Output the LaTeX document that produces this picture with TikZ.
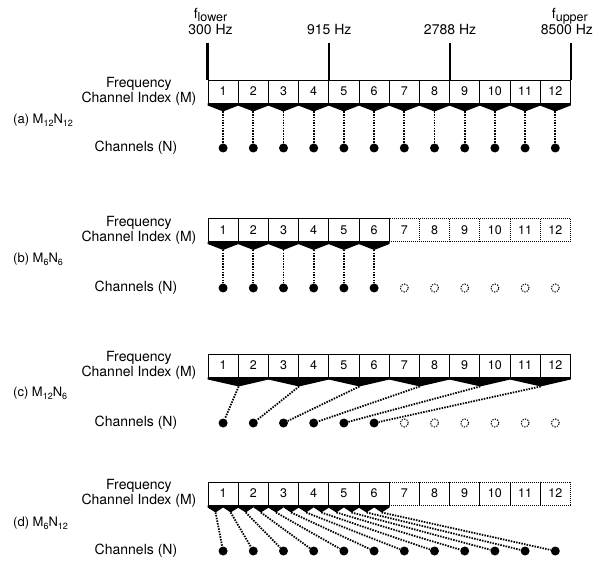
\documentclass[tikz,border=0pt]{standalone}
\usepackage{fontspec}
\setmainfont{TeX Gyre Heros}
\newcommand\subtext[2][9]{\raisebox{-0.22em}{\fontsize{#1}{#1}\selectfont #2}}
\newcommand\wedgeat[3]{\fill (#1) -- (#2) -- ([yshift=-2pt]#2) -- (#3) -- ([yshift=-2pt]#1) -- cycle;}
\tikzset{
  cell/.style={draw,line width=0.9pt,minimum width=30.2pt,minimum height=23pt,inner sep=0pt,font=\fontsize{12.5}{13}\selectfont},
  idle/.style={cell,dash pattern=on 1pt off 1pt},
  chan/.style={circle,fill,inner sep=0pt,minimum size=9pt},
  chanoff/.style={circle,draw,line width=1pt,dash pattern=on 1.3pt off 1.2pt,inner sep=0pt,minimum size=8pt},
  link/.style={line width=1.8pt,dash pattern=on 1.5pt off 1.2pt},
  tick/.style={line width=2.4pt},
  hz/.style={anchor=south,inner sep=0pt,yshift=8pt},
  rowlabel/.style={align=center,anchor=east,inner sep=0pt},
  chanlabel/.style={anchor=east,inner sep=0pt},
  panel/.style={anchor=west,inner sep=0pt,font=\fontsize{13}{15}\selectfont}
}
\begin{document}
\begin{tikzpicture}[x=1pt,y=-1pt,every node/.style={font=\fontsize{14}{15}\selectfont}]
\useasboundingbox (0,0) rectangle (600,564);

% (a)
\foreach \i in {1,...,12}{
  \node[cell] (a\i) at (192.9+30.2*\i,91.5) {\i};
  \node[chan] (na\i) at (192.9+30.2*\i,148) {};
  \coordinate (pa\i) at ([yshift=-8pt]a\i.south);
  \wedgeat{a\i.south west}{a\i.south east}{pa\i}
  \draw[link] (pa\i) -- (na\i);
}
\coordinate (t1) at ([yshift=37pt]a1.north west);
\coordinate (t2) at ([yshift=37pt]a4.north east);
\coordinate (t3) at ([yshift=37pt]a8.north east);
\coordinate (t4) at ([yshift=37pt]a12.north east);
\draw[tick] (a1.north west) -- (t1);
\draw[tick] (a4.north east) -- (t2);
\draw[tick] (a8.north east) -- (t3);
\draw[tick] (a12.north east) -- (t4);
\node[hz,xshift=3pt] (hz1) at (t1) {300 Hz};
\node[hz] (hz2) at (t2) {915 Hz};
\node[hz] (hz3) at (t3) {2788 Hz};
\node[hz,xshift=-4pt] (hz4) at (t4) {8500 Hz};
\node[anchor=base,inner sep=0pt] (flow) at ([yshift=5.5pt]hz1.north) {f\subtext[12.5]{lower}};
\node[anchor=base,inner sep=0pt] (fup) at ([yshift=5.5pt,xshift=3pt]hz4.north) {f\subtext[12.5]{upper}};
\node[rowlabel] (fa) at ([xshift=-11pt]a1.west) {Frequency\\Channel Index (M)};
\node[chanlabel] (ca) at ([xshift=-41pt]na1.west) {Channels (N)};
\node[panel] (la) at (13,120) {(a) M\subtext[9]{12}N\subtext[9]{12}};

% (b)
\foreach \i in {1,...,6}{
  \node[cell] (b\i) at (192.9+30.2*\i,230) {\i};
  \node[chan] (nb\i) at (192.9+30.2*\i,288) {};
  \coordinate (pb\i) at ([yshift=-8pt]b\i.south);
  \wedgeat{b\i.south west}{b\i.south east}{pb\i}
  \draw[link] (pb\i) -- (nb\i);
}
\foreach \i in {7,...,12}{
  \node[idle] (b\i) at (192.9+30.2*\i,230) {\i};
  \node[chanoff] (nb\i) at (192.9+30.2*\i,288) {};
}
\node[rowlabel] (fb) at ([xshift=-11pt]b1.west) {Frequency\\Channel Index (M)};
\node[chanlabel] (cb) at ([xshift=-41pt]nb1.west) {Channels (N)};
\node[panel] (lb) at (13,259) {(b) M\subtext[9]{6}N\subtext[9]{6}};

% (c)
\foreach \i in {1,...,12}{
  \node[cell] (c\i) at (192.9+30.2*\i,365.5) {\i};
}
\foreach \i in {1,...,6}{
  \node[chan] (nc\i) at (192.9+30.2*\i,423) {};
}
\foreach \i in {7,...,12}{
  \node[chanoff] (nc\i) at (192.9+30.2*\i,423) {};
}
\foreach \k [evaluate=\k as \l using int(2*\k-1), evaluate=\k as \r using int(2*\k)] in {1,...,6}{
  \coordinate (pc\k) at ([yshift=-9pt]c\l.south east);
  \wedgeat{c\l.south west}{c\r.south east}{pc\k}
  \draw[link] (pc\k) -- (nc\k);
}
\node[rowlabel] (fc) at ([xshift=-11pt]c1.west) {Frequency\\Channel Index (M)};
\node[chanlabel] (cc) at ([xshift=-41pt]nc1.west) {Channels (N)};
\node[panel] (lc) at (13,393) {(c) M\subtext[9]{12}N\subtext[9]{6}};

% (d)
\foreach \i in {1,...,6}{
  \node[cell] (d\i) at (192.9+30.2*\i,493.5) {\i};
}
\foreach \i in {7,...,12}{
  \node[idle] (d\i) at (192.9+30.2*\i,493.5) {\i};
}
\foreach \i in {1,...,12}{
  \node[chan] (nd\i) at (192.9+30.2*\i,551) {};
}
\foreach \i [evaluate=\i as \l using int(2*\i-1), evaluate=\i as \r using int(2*\i)] in {1,...,6}{
  \coordinate (pd\l) at ([xshift=-7.55pt,yshift=-7pt]d\i.south);
  \coordinate (pd\r) at ([xshift=7.55pt,yshift=-7pt]d\i.south);
  \wedgeat{d\i.south west}{d\i.south}{pd\l}
  \wedgeat{d\i.south}{d\i.south east}{pd\r}
}
\foreach \j in {1,...,12}{
  \draw[link] (pd\j) -- (nd\j);
}
\node[rowlabel] (fd) at ([xshift=-11pt]d1.west) {Frequency\\Channel Index (M)};
\node[chanlabel] (cd) at ([xshift=-41pt]nd1.west) {Channels (N)};
\node[panel] (ld) at (13,523) {(d) M\subtext[9]{6}N\subtext[9]{12}};
\end{tikzpicture}
\end{document}
